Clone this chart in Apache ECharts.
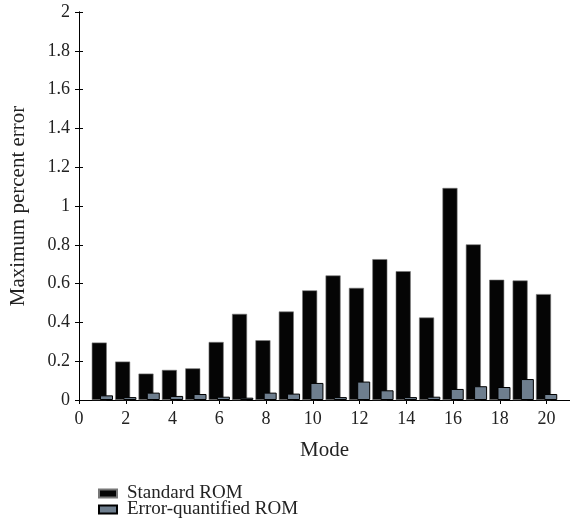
<!DOCTYPE html>
<html>
<head>
<meta charset="utf-8">
<script src="https://cdn.jsdelivr.net/npm/echarts@6/dist/echarts.min.js"></script>
<style>html,body{margin:0;padding:0;background:#fff;}#c{width:570px;height:531px;}</style>
</head>
<body>
<div id="c"></div>
<script>
var modes = [1,2,3,4,5,6,7,8,9,10,11,12,13,14,15,16,17,18,19,20];
var standardROM = [0.296,0.198,0.136,0.155,0.163,0.299,0.444,0.308,0.456,0.565,0.642,0.578,0.726,0.664,0.425,1.093,0.802,0.620,0.616,0.546];
var errorQuantifiedROM = [0.024,0.015,0.038,0.021,0.031,0.017,0.012,0.038,0.033,0.088,0.015,0.095,0.050,0.015,0.017,0.057,0.071,0.067,0.108,0.031];
var seriesNames = ['Standard ROM','Error-quantified ROM'];

var font = 'Liberation Serif';
var chart = echarts.init(document.getElementById('c'), null, {renderer:'canvas'});
function pairs(vals){ return modes.map(function(m,i){ return [m, vals[i]]; }); }
function legendFor(name, top){
  return {
    orient:'vertical', left:98, top:top, padding:0, itemWidth:18, itemHeight:8, itemGap:0,
    icon:'rect',
    textStyle:{fontFamily:font, fontSize:19, color:'#222', padding:[0,0,0,5]},
    data:[name]
  };
}
chart.setOption({
  animation:false,
  backgroundColor:'#fff',
  grid:{left:79, top:12, width:492, height:388, containLabel:false},
  legend:[legendFor(seriesNames[0], 484), legendFor(seriesNames[1], 500)],
  xAxis:[{
    type:'value', min:0, max:21, interval:2, position:'bottom',
    name:'Mode', nameLocation:'middle', nameGap:40,
    nameTextStyle:{fontFamily:font, fontSize:21, color:'#222'},
    axisLine:{lineStyle:{color:'#000', width:1}},
    axisTick:{show:false},
    axisLabel:{fontFamily:font, fontSize:18, color:'#222', margin:10, showMaxLabel:false},
    splitLine:{show:false}
  },{
    type:'value', min:0, max:21, interval:2, position:'top',
    axisLine:{show:true, lineStyle:{color:'#000', width:1}},
    axisTick:{show:true, inside:true, length:4, lineStyle:{color:'#000'}},
    axisLabel:{show:false}, splitLine:{show:false}
  }],
  yAxis:[{
    type:'value', min:0, max:2, interval:0.2, position:'left',
    name:'Maximum percent error', nameLocation:'middle', nameGap:50,
    nameTextStyle:{fontFamily:font, fontSize:21, color:'#222'},
    axisLine:{show:true, lineStyle:{color:'#000', width:1}},
    axisTick:{show:true, inside:true, length:4, lineStyle:{color:'#000'}},
    axisLabel:{fontFamily:font, fontSize:18, color:'#222', margin:9},
    splitLine:{show:false}
  },{
    type:'value', min:0, max:2, interval:0.2, position:'right',
    axisLine:{show:true, lineStyle:{color:'#000', width:1}},
    axisTick:{show:true, inside:true, length:4, lineStyle:{color:'#000'}},
    axisLabel:{show:false}, splitLine:{show:false}
  }],
  series:[{
    name:seriesNames[0], type:'bar', xAxisIndex:0, yAxisIndex:0,
    data:pairs(standardROM), barWidth:15, barGap:'-45%',
    itemStyle:{color:'#050505', borderColor:'#777', borderWidth:0.6}
  },{
    name:seriesNames[1], type:'bar', xAxisIndex:0, yAxisIndex:0,
    data:pairs(errorQuantifiedROM), barWidth:13, barGap:'-45%',
    itemStyle:{color:'#6e7e8e', borderColor:'#000', borderWidth:1}
  }]
});
</script>
</body>
</html>
